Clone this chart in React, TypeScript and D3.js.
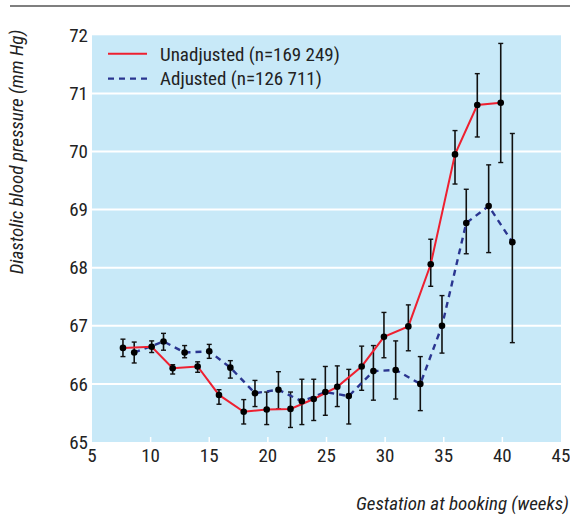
import React from "react";
import * as d3 from "d3";

const redWeeks = [7.64, 10.09, 11.88, 14.01, 15.83, 17.94, 19.9, 21.93, 23.91, 25.92, 28.0, 29.9, 31.98, 33.89, 35.96, 37.86, 39.86];
const redMean = [66.62, 66.64, 66.27, 66.3, 65.81, 65.52, 65.56, 65.57, 65.74, 65.95, 66.3, 66.81, 66.99, 68.06, 69.95, 70.8, 70.84];
const redHi = [66.77, 66.74, 66.33, 66.38, 65.9, 65.73, 65.86, 65.86, 66.08, 66.31, 66.65, 67.23, 67.36, 68.49, 70.36, 71.34, 71.86];
const redLo = [66.47, 66.54, 66.17, 66.2, 65.65, 65.31, 65.3, 65.25, 65.37, 65.61, 65.89, 66.45, 66.57, 67.68, 69.44, 70.25, 69.81];

const blueWeeks = [8.6, 11.1, 12.9, 15.0, 16.8, 18.9, 20.9, 22.9, 24.9, 26.9, 29.0, 30.9, 33.0, 34.85, 36.92, 38.83, 40.85];
const blueMean = [66.54, 66.73, 66.54, 66.56, 66.28, 65.84, 65.9, 65.7, 65.86, 65.79, 66.22, 66.24, 66.0, 67.0, 68.77, 69.06, 68.44];
const blueHi = [66.72, 66.87, 66.66, 66.68, 66.4, 66.06, 66.21, 66.08, 66.3, 66.25, 66.66, 66.74, 66.47, 67.52, 69.35, 69.77, 70.31];
const blueLo = [66.36, 66.58, 66.45, 66.44, 66.1, 65.61, 65.57, 65.3, 65.46, 65.31, 65.72, 65.74, 65.54, 66.53, 68.24, 68.26, 66.71];

const xTicks = [5, 10, 15, 20, 25, 30, 35, 40, 45];
const yTicks = [65, 66, 67, 68, 69, 70, 71, 72];
const legendLabels = ["Unadjusted (n=169 249)", "Adjusted (n=126 711)"];

const FONT = "'Liberation Sans Narrow', 'Arial Narrow', 'Roboto Condensed', 'Liberation Sans', sans-serif";

export default function App() {
  const W = 570, H = 517;
  const left = 92, right = 561, top = 35.3, bottom = 442;
  const x = d3.scaleLinear().domain([5, 45]).range([left, right]);
  const y = d3.scaleLinear().domain([65, 72]).range([bottom, top]);

  const mk = (wk: number[], m: number[], hi: number[], lo: number[]) =>
    wk.map((w, i) => ({ w, m: m[i], hi: hi[i], lo: lo[i] }));
  const red = mk(redWeeks, redMean, redHi, redLo);
  const blue = mk(blueWeeks, blueMean, blueHi, blueLo);
  const line = d3.line<{ w: number; m: number }>().x(d => x(d.w)).y(d => y(d.m));

  const bars = (data: typeof red, key: string) =>
    data.map((d, i) => (
      <g key={key + i}>
        <line x1={x(d.w)} x2={x(d.w)} y1={y(d.hi)} y2={y(d.lo)} stroke="#111" strokeWidth={1.6} />
        <line x1={x(d.w) - 2.5} x2={x(d.w) + 2.5} y1={y(d.hi)} y2={y(d.hi)} stroke="#111" strokeWidth={1.4} />
        <line x1={x(d.w) - 2.5} x2={x(d.w) + 2.5} y1={y(d.lo)} y2={y(d.lo)} stroke="#111" strokeWidth={1.4} />
      </g>
    ));
  const dots = (data: typeof red, key: string) =>
    data.map((d, i) => <circle key={key + "c" + i} cx={x(d.w)} cy={y(d.m)} r={3.3} fill="#000" />);

  return (
    <svg width={W} height={H} style={{ position: "absolute", left: 0, top: 0 }} fontFamily={FONT}>
      <rect width={W} height={H} fill="#fff" />
      <line x1={10} x2={570} y1={6} y2={6} stroke="#555" strokeWidth={1.5} />
      <rect x={left} y={top} width={right - left} height={bottom - top} fill="#c8e9f8" />
      {yTicks.filter(t => t > 65 && t < 72).map(t => (
        <line key={"g" + t} x1={left} x2={right} y1={y(t)} y2={y(t)} stroke="#fff" strokeWidth={2} />
      ))}
      {xTicks.filter(t => t > 5 && t < 45).map(t => (
        <line key={"xt" + t} x1={x(t)} x2={x(t)} y1={bottom} y2={bottom - 5} stroke="#fff" strokeWidth={1.5} />
      ))}
      {yTicks.map(t => (
        <text key={"yl" + t} x={88} y={y(t)} dy="0.35em" textAnchor="end" fontSize={19} fill="#222">{t}</text>
      ))}
      {xTicks.map(t => (
        <text key={"xl" + t} x={x(t)} y={462} textAnchor="middle" fontSize={19} fill="#222">{t}</text>
      ))}
      <text transform={`translate(23,152) rotate(-90)`} textAnchor="middle" fontSize={19} fontStyle="italic" fill="#222">
        Diastolic blood pressure (mm Hg)
      </text>
      <text x={569} y={510} textAnchor="end" fontSize={19} fontStyle="italic" fill="#222">
        Gestation at booking (weeks)
      </text>
      {bars(red, "r")}
      {bars(blue, "b")}
      <path d={line(blue) || ""} fill="none" stroke="#2a3590" strokeWidth={2.4} strokeDasharray="6,5" />
      <path d={line(red) || ""} fill="none" stroke="#ee2030" strokeWidth={2} />
      {dots(red, "r")}
      {dots(blue, "b")}
      <line x1={108} x2={147} y1={53.7} y2={53.7} stroke="#ee2030" strokeWidth={2} />
      <text x={160} y={54} dy="0.35em" fontSize={19} fill="#222">{legendLabels[0]}</text>
      <line x1={108} x2={147} y1={78.7} y2={78.7} stroke="#2a3590" strokeWidth={2.2} strokeDasharray="6,5" />
      <text x={160} y={78} dy="0.35em" fontSize={19} fill="#222">{legendLabels[1]}</text>
    </svg>
  );
}
